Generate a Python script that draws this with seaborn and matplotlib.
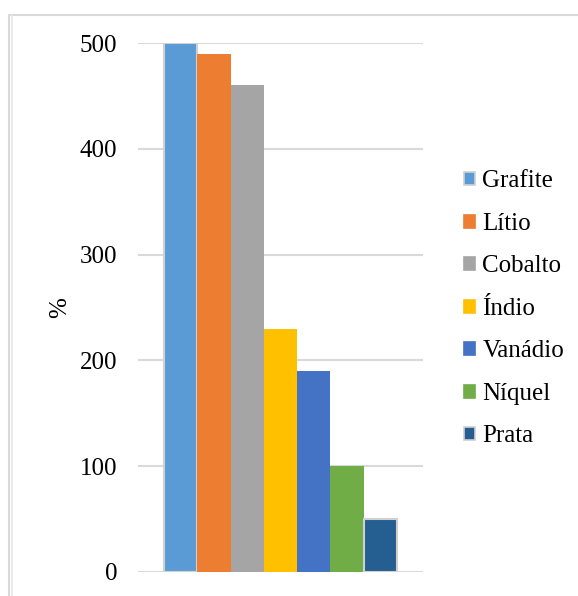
import matplotlib
matplotlib.use("Agg")
import matplotlib.pyplot as plt
from matplotlib.lines import Line2D
from matplotlib.patches import Patch
import seaborn as sns
import pandas as pd

materials = ["Grafite", "Lítio", "Cobalto", "Índio", "Vanádio", "Níquel", "Prata"]
values = [500, 490, 460, 230, 190, 100, 50]
colors = ["#5B9BD5", "#ED7D31", "#A5A5A5", "#FFC000", "#4472C4", "#70AD47", "#255E91"]
yticks = [0, 100, 200, 300, 400, 500]

sns.set_theme(style="white")
plt.rcParams["font.family"] = ["Liberation Serif", "DejaVu Serif"]

W, H, DPI = 578, 596, 100
FS = 18
fig = plt.figure(figsize=(W / DPI, H / DPI), dpi=DPI)
ax = fig.add_axes([138 / W, 1 - 572 / H, (423 - 138) / W, (572 - 43) / H])

df = pd.DataFrame({"material": materials, "valor": values})
sns.barplot(data=df, x="material", y="valor", hue="material", palette=colors,
            width=1.0, legend=False, ax=ax, saturation=1)

# light outline on the first and last bars
for i, bar in enumerate(ax.patches):
    if i in (0, len(materials) - 1):
        bar.set_edgecolor("#D0D0D0")
        bar.set_linewidth(1.5)
    else:
        bar.set_linewidth(0)

ax.set_xlim(-1.28, 7.28)
ax.set_ylim(0, 500)
ax.set_yticks(yticks)
ax.set_yticklabels([str(t) for t in yticks], fontsize=FS, color="black")
ax.tick_params(axis="y", length=0, pad=15)
ax.set_xticks([])
ax.set_xlabel("")
ax.set_ylabel("%", fontsize=FS, color="black", labelpad=6)
ax.yaxis.grid(True, color="#D9D9D9", linewidth=1.5)
ax.set_axisbelow(True)
for s in ax.spines.values():
    s.set_visible(False)

handles = []
for i, (m, c) in enumerate(zip(materials, colors)):
    edge = "#D0D0D0" if i in (0, len(materials) - 1) else c
    handles.append(Patch(facecolor=c, edgecolor=edge, linewidth=1.2))
leg = fig.legend(handles, materials, loc="center left",
                 bbox_to_anchor=(442 / W, 1 - 309 / H), frameon=False,
                 fontsize=FS, handlelength=0.42, handleheight=0.42,
                 handletextpad=0.3, labelspacing=0.82)
for t in leg.get_texts():
    t.set_color("black")

# outer chart frame
fig.add_artist(Line2D([10 / W, 1], [1 - 14.5 / H] * 2, color="#D9D9D9", lw=1.5,
                      transform=fig.transFigure))
fig.add_artist(Line2D([9 / W] * 2, [0, 1 - 14.5 / H], color="#D9D9D9", lw=1.5,
                      transform=fig.transFigure))
fig.add_artist(Line2D([12.5 / W] * 2, [0, 1 - 14.5 / H], color="#E6E6E6", lw=1.2,
                      transform=fig.transFigure))

fig.savefig("out.png", dpi=DPI, facecolor="white")
